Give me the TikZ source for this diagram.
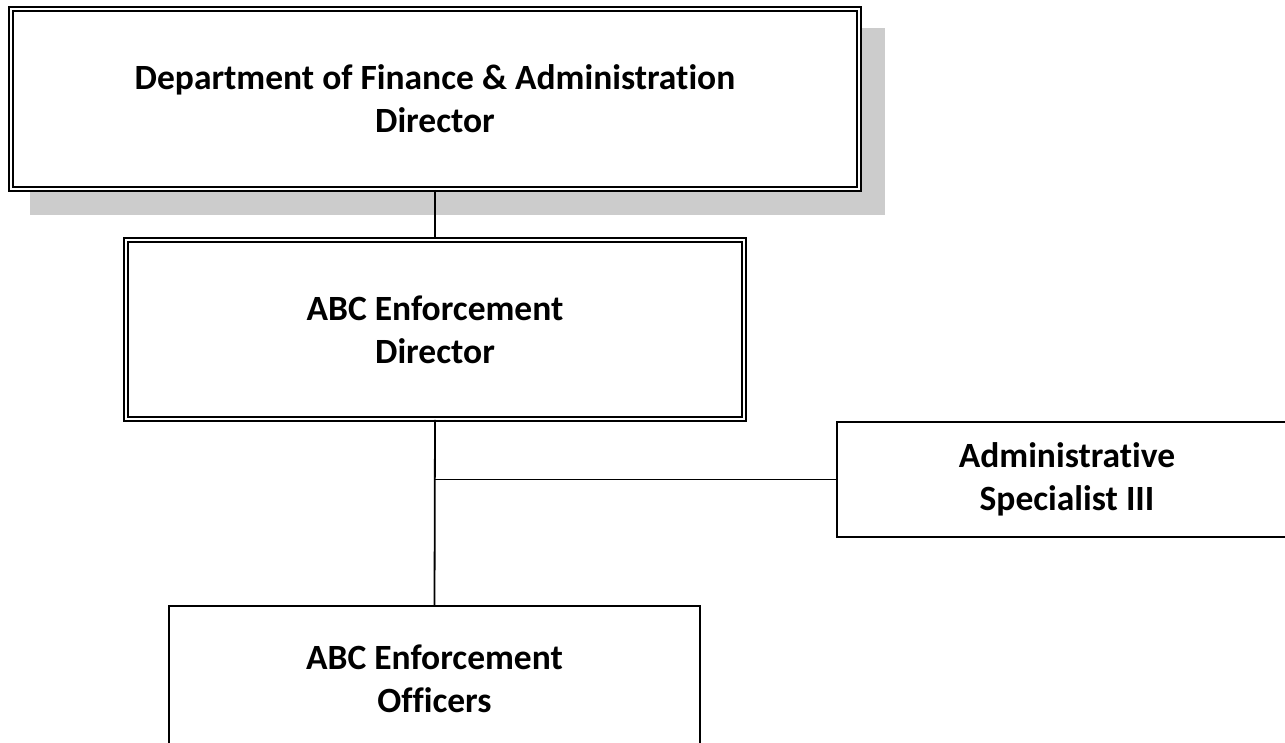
\documentclass[tikz,border=0pt]{standalone}
\usepackage{fontspec}
\setmainfont{Carlito}[Ligatures=CommonOff]
\begin{document}
\begin{tikzpicture}[x=1pt,y=-1pt,
  lbl/.style={align=center,font=\bfseries\fontsize{35.5}{43.3}\selectfont,inner sep=0pt,fill=white},
  dbox/.style={lbl,draw=black,double=white,line width=1.7pt,double distance=2pt},
  sbox/.style={lbl,draw=black,line width=1.8pt},
  conn/.style={draw=black,line width=1.8pt}]
\useasboundingbox (0,0) rectangle (1285,742);
\clip (0,0) rectangle (1285,742);
\fill[white] (0,0) rectangle (1285,742);
% shadow of top box
\fill[black!20] (30,28) rectangle (885,215);
\node[dbox,minimum width=848pt,minimum height=180pt] (top) at (435,99)
  {Department of Finance \& Administration\\Director};
\node[dbox,minimum width=618pt,minimum height=179pt] (mid) at (435,329.5)
  {ABC Enforcement\\Director};
\node[sbox,minimum width=460pt,minimum height=115pt] (adm) at (1067,479.5)
  {Administrative\\Specialist III};
\node[sbox,minimum width=531pt,minimum height=145pt] (off) at (434.5,678.5)
  {ABC Enforcement\\Officers};
\coordinate (j) at (mid.south |- adm.west);
\draw[conn] (top.south) -- (mid.north);
\draw[conn] (mid.south) -- (off.north);
\draw[conn] (j) -- (adm.west);
\end{tikzpicture}
\end{document}
